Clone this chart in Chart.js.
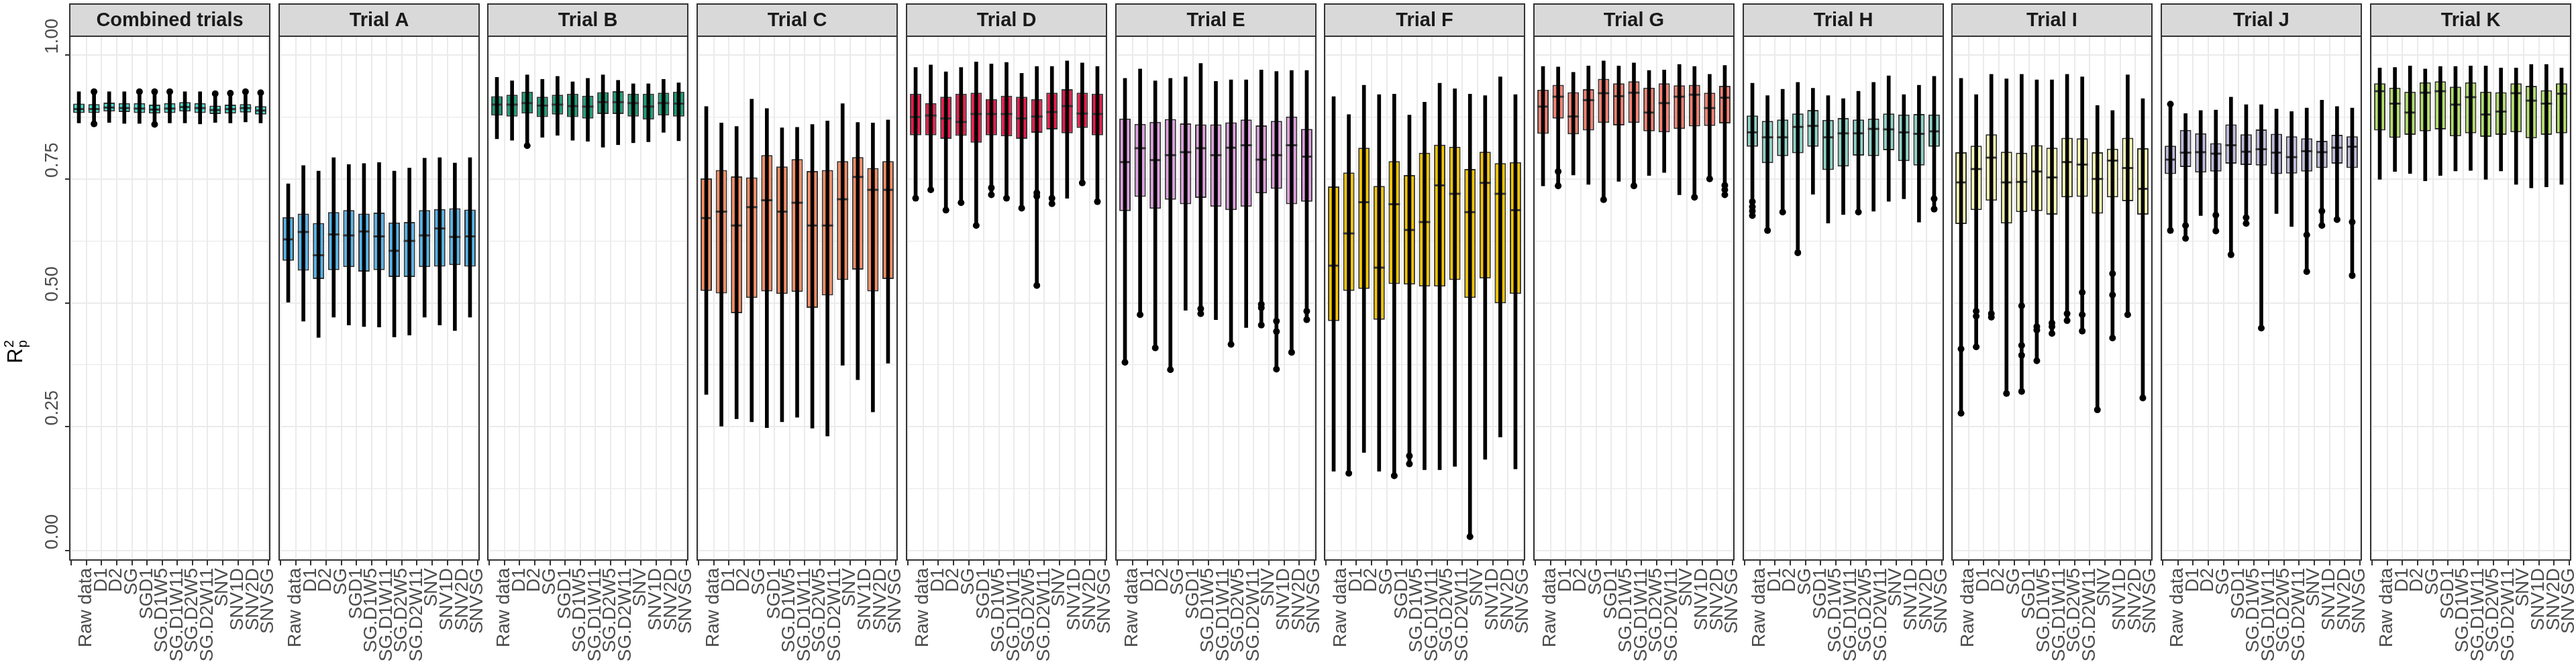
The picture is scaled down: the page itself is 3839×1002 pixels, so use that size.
<!DOCTYPE html>
<html>
<head>
<meta charset="utf-8">
<script src="https://cdn.jsdelivr.net/npm/chart.js@4.4.1/dist/chart.umd.min.js"></script>
<style>
  html, body { margin: 0; padding: 0; background: #fff; }
  #wrap { position: relative; width: 3839px; height: 1002px; overflow: hidden; }
  #wrap canvas { position: absolute; top: 0; }
</style>
</head>
<body>
<div id="wrap"></div>
<script>
// categories on the x axis (same in every facet)
const categories = ['Raw data', 'D1', 'D2', 'SG', 'SGD1', 'SG.D1W5', 'SG.D1W11',
                    'SG.D2W5', 'SG.D2W11', 'SNV', 'SNV1D', 'SNV2D', 'SNVSG'];
const trials = ['Combined trials', 'Trial A', 'Trial B', 'Trial C', 'Trial D', 'Trial E',
                'Trial F', 'Trial G', 'Trial H', 'Trial I', 'Trial J', 'Trial K'];
const fills = ['#40E0D0', '#56B4E9', '#1B9E77', '#FC8D62', '#E8194B', '#DDA0DD',
               '#F5C400', '#FB8072', '#8DD3C7', '#FFFFB3', '#BEBADA', '#B3DE69'];

const yGrid = [0, 0.125, 0.25, 0.375, 0.5, 0.625, 0.75, 0.875, 1];
const yLabels = ['0.00', '0.25', '0.50', '0.75', '1.00'];

// min / max of the vertical line (one row per trial, same order as trials)
const lows = [
  [0.863,0.861,0.864,0.862,0.862,0.860,0.863,0.863,0.861,0.864,0.863,0.865,0.863],
  [0.501,0.463,0.430,0.471,0.455,0.452,0.451,0.431,0.435,0.471,0.455,0.444,0.471],
  [0.831,0.828,0.817,0.834,0.838,0.828,0.826,0.814,0.819,0.823,0.825,0.844,0.827],
  [0.315,0.251,0.266,0.260,0.248,0.260,0.269,0.247,0.231,0.374,0.345,0.280,0.378],
  [0.711,0.728,0.687,0.702,0.656,0.718,0.711,0.691,0.535,0.700,0.711,0.742,0.704],
  [0.380,0.476,0.409,0.365,0.485,0.478,0.466,0.416,0.450,0.455,0.366,0.400,0.466],
  [0.160,0.156,0.198,0.160,0.151,0.175,0.163,0.163,0.170,0.028,0.184,0.229,0.165],
  [0.736,0.736,0.758,0.739,0.708,0.745,0.736,0.757,0.763,0.718,0.713,0.750,0.718],
  [0.676,0.646,0.683,0.601,0.719,0.661,0.678,0.683,0.685,0.705,0.710,0.663,0.689],
  [0.277,0.411,0.471,0.317,0.321,0.383,0.438,0.464,0.443,0.284,0.429,0.476,0.308],
  [0.646,0.630,0.676,0.645,0.597,0.660,0.449,0.680,0.654,0.563,0.656,0.668,0.555],
  [0.749,0.765,0.761,0.746,0.757,0.766,0.767,0.749,0.766,0.739,0.732,0.734,0.739]
];
const highs = [
  [0.926,0.926,0.926,0.926,0.926,0.926,0.926,0.926,0.926,0.922,0.923,0.926,0.924],
  [0.740,0.777,0.766,0.793,0.779,0.781,0.783,0.766,0.772,0.792,0.793,0.782,0.793],
  [0.955,0.948,0.960,0.951,0.957,0.946,0.953,0.960,0.949,0.942,0.942,0.951,0.944],
  [0.896,0.863,0.856,0.911,0.892,0.853,0.854,0.860,0.867,0.902,0.864,0.863,0.869],
  [0.975,0.980,0.966,0.975,0.986,0.982,0.985,0.963,0.977,0.977,0.988,0.984,0.977],
  [0.953,0.972,0.948,0.953,0.956,0.983,0.947,0.950,0.950,0.970,0.967,0.969,0.969],
  [0.916,0.880,0.939,0.920,0.921,0.879,0.905,0.943,0.932,0.921,0.918,0.956,0.920],
  [0.977,0.976,0.965,0.978,0.988,0.978,0.984,0.969,0.970,0.981,0.977,0.961,0.979],
  [0.943,0.918,0.931,0.945,0.933,0.918,0.912,0.927,0.945,0.958,0.920,0.939,0.957],
  [0.953,0.920,0.961,0.952,0.961,0.950,0.950,0.961,0.956,0.898,0.888,0.960,0.912],
  [0.901,0.882,0.888,0.889,0.915,0.900,0.900,0.891,0.886,0.893,0.909,0.896,0.893],
  [0.974,0.975,0.978,0.972,0.977,0.977,0.978,0.978,0.974,0.974,0.981,0.981,0.974]
];
// box: lower hinge, median, upper hinge
const q1s = [
  [0.883,0.883,0.886,0.885,0.883,0.882,0.883,0.886,0.883,0.881,0.882,0.884,0.880],
  [0.585,0.565,0.548,0.566,0.572,0.563,0.566,0.552,0.552,0.572,0.573,0.576,0.573],
  [0.878,0.876,0.882,0.875,0.880,0.875,0.872,0.881,0.881,0.876,0.870,0.878,0.876],
  [0.524,0.519,0.479,0.510,0.523,0.518,0.522,0.490,0.515,0.546,0.567,0.523,0.548],
  [0.838,0.838,0.831,0.837,0.823,0.838,0.836,0.831,0.843,0.850,0.842,0.853,0.838],
  [0.685,0.714,0.690,0.708,0.699,0.712,0.694,0.687,0.694,0.721,0.730,0.699,0.704],
  [0.463,0.524,0.528,0.466,0.538,0.537,0.533,0.533,0.546,0.510,0.549,0.499,0.518],
  [0.841,0.872,0.840,0.848,0.863,0.858,0.863,0.846,0.844,0.851,0.856,0.857,0.862],
  [0.815,0.782,0.796,0.802,0.815,0.768,0.775,0.797,0.796,0.808,0.786,0.777,0.815],
  [0.659,0.687,0.706,0.660,0.683,0.685,0.678,0.713,0.714,0.680,0.713,0.705,0.678],
  [0.760,0.774,0.763,0.765,0.781,0.778,0.777,0.760,0.761,0.765,0.772,0.781,0.772],
  [0.848,0.833,0.839,0.846,0.850,0.836,0.842,0.835,0.839,0.844,0.832,0.839,0.842]
];
const medians = [
  [0.891,0.891,0.894,0.893,0.892,0.890,0.892,0.895,0.893,0.889,0.891,0.893,0.888],
  [0.628,0.643,0.596,0.638,0.636,0.644,0.634,0.605,0.625,0.636,0.650,0.633,0.634],
  [0.900,0.900,0.903,0.898,0.900,0.897,0.896,0.905,0.905,0.903,0.896,0.903,0.902],
  [0.671,0.684,0.656,0.693,0.707,0.684,0.702,0.656,0.656,0.709,0.754,0.728,0.728],
  [0.875,0.878,0.872,0.865,0.881,0.881,0.881,0.872,0.876,0.885,0.897,0.882,0.881],
  [0.784,0.812,0.788,0.798,0.804,0.812,0.798,0.813,0.818,0.789,0.798,0.818,0.795],
  [0.575,0.640,0.703,0.571,0.699,0.647,0.663,0.737,0.720,0.683,0.742,0.720,0.687],
  [0.896,0.916,0.876,0.909,0.923,0.917,0.924,0.884,0.903,0.916,0.920,0.893,0.914],
  [0.844,0.834,0.834,0.855,0.857,0.834,0.842,0.842,0.851,0.850,0.844,0.841,0.846],
  [0.743,0.770,0.793,0.743,0.744,0.765,0.753,0.784,0.779,0.750,0.787,0.772,0.730],
  [0.789,0.803,0.804,0.801,0.818,0.805,0.810,0.803,0.794,0.806,0.804,0.813,0.815],
  [0.927,0.902,0.884,0.924,0.927,0.900,0.915,0.880,0.886,0.923,0.908,0.902,0.922]
];
const q3s = [
  [0.902,0.901,0.904,0.903,0.903,0.900,0.903,0.905,0.903,0.898,0.900,0.901,0.897],
  [0.673,0.680,0.661,0.683,0.687,0.680,0.682,0.662,0.663,0.687,0.689,0.691,0.688],
  [0.917,0.920,0.926,0.916,0.920,0.922,0.918,0.925,0.927,0.922,0.922,0.924,0.926],
  [0.751,0.768,0.755,0.753,0.798,0.775,0.790,0.766,0.768,0.786,0.794,0.772,0.786],
  [0.922,0.903,0.916,0.922,0.924,0.911,0.918,0.916,0.911,0.924,0.931,0.924,0.922],
  [0.872,0.861,0.865,0.871,0.862,0.860,0.860,0.864,0.870,0.858,0.867,0.876,0.851],
  [0.735,0.763,0.813,0.736,0.786,0.758,0.803,0.819,0.815,0.770,0.805,0.782,0.784],
  [0.930,0.940,0.925,0.931,0.952,0.943,0.947,0.934,0.943,0.939,0.940,0.924,0.938],
  [0.878,0.867,0.870,0.882,0.889,0.869,0.873,0.870,0.872,0.882,0.880,0.881,0.880],
  [0.804,0.817,0.840,0.805,0.803,0.818,0.813,0.833,0.832,0.804,0.811,0.833,0.812],
  [0.817,0.849,0.842,0.822,0.860,0.840,0.850,0.841,0.836,0.832,0.827,0.839,0.836],
  [0.943,0.934,0.926,0.945,0.947,0.936,0.945,0.926,0.925,0.943,0.938,0.929,0.943]
];
// outlying points: [category index, value]
const outliers = [
  [[1,0.926],[1,0.861],[4,0.926],[5,0.926],[5,0.860],[6,0.926],[9,0.922],[10,0.923],[11,0.926],[12,0.924]],
  [],
  [[2,0.817]],
  [],
  [[0,0.711],[1,0.728],[2,0.687],[3,0.702],[4,0.656],[5,0.732],[5,0.718],[6,0.711],[7,0.691],
   [8,0.722],[8,0.715],[8,0.535],[9,0.711],[9,0.700],[11,0.742],[12,0.704]],
  [[0,0.380],[1,0.476],[2,0.409],[3,0.365],[5,0.488],[5,0.478],[7,0.416],[9,0.497],[9,0.490],
   [9,0.455],[10,0.463],[10,0.442],[10,0.366],[11,0.400],[12,0.483],[12,0.466]],
  [[1,0.156],[4,0.151],[5,0.191],[5,0.175],[9,0.028]],
  [[1,0.765],[1,0.736],[4,0.708],[6,0.736],[10,0.713],[11,0.750],[12,0.737],[12,0.728],[12,0.718]],
  [[0,0.704],[0,0.694],[0,0.685],[0,0.676],[1,0.646],[2,0.683],[3,0.601],[7,0.683],[12,0.710],[12,0.689]],
  [[0,0.407],[0,0.277],[1,0.483],[1,0.473],[1,0.411],[2,0.478],[2,0.471],[3,0.317],[4,0.494],
   [4,0.414],[4,0.394],[4,0.321],[5,0.452],[5,0.445],[5,0.383],[6,0.459],[6,0.452],[6,0.438],
   [7,0.478],[7,0.464],[8,0.521],[8,0.476],[8,0.443],[9,0.284],[10,0.559],[10,0.516],[10,0.429],
   [11,0.476],[12,0.308]],
  [[0,0.901],[0,0.646],[1,0.656],[1,0.630],[3,0.677],[3,0.645],[4,0.597],[5,0.672],[5,0.660],
   [6,0.449],[9,0.637],[9,0.563],[10,0.685],[10,0.656],[11,0.668],[12,0.663],[12,0.555]],
  []
];

const FONT = '"Liberation Sans", Arial, Helvetica, sans-serif';
const PANEL_X0 = 104, PANEL_STEP = 311.7, PANEL_W = 298, SIDE = 40, AXIS_W = 50;

// grey strip with the facet name + dark frame round the panel
const facetFrame = {
  id: 'facetFrame',
  afterDraw(chart, args, opts) {
    const ctx = chart.ctx, a = chart.chartArea;
    ctx.save();
    ctx.fillStyle = '#d9d9d9';
    ctx.fillRect(a.left, 6, a.right - a.left, a.top - 6);
    ctx.strokeStyle = '#333';
    ctx.lineWidth = 2;
    ctx.strokeRect(a.left, 6, a.right - a.left, a.top - 6);
    ctx.strokeRect(a.left, a.top, a.right - a.left, a.bottom - a.top);
    ctx.fillStyle = '#1a1a1a';
    ctx.font = 'bold 29px ' + FONT;
    ctx.textAlign = 'center';
    ctx.textBaseline = 'middle';
    ctx.fillText(opts.title, (a.left + a.right) / 2, (6 + a.top) / 2 + 1);
    ctx.restore();
  }
};

// R²p axis title, only on the first panel
const yTitle = {
  id: 'yTitle',
  afterDraw(chart, args, opts) {
    if (!opts.show) return;
    const ctx = chart.ctx;
    ctx.save();
    ctx.translate(33, opts.centre);
    ctx.rotate(-Math.PI / 2);
    ctx.fillStyle = '#000';
    ctx.font = '31px ' + FONT;
    const wR = ctx.measureText('R').width;
    ctx.font = '20px ' + FONT;
    const wS = ctx.measureText('2').width;
    const x0 = -(wR + wS) / 2;
    ctx.font = '31px ' + FONT;
    ctx.fillText('R', x0, 0);
    ctx.font = '20px ' + FONT;
    ctx.fillText('2', x0 + wR + 1, -13);
    ctx.fillText('p', x0 + wR + 1, 7);
    ctx.restore();
  }
};

function dibujarPanel(t) {
  const first = t === 0;
  const canvas = document.createElement('canvas');
  const panelLeft = Math.round(PANEL_X0 + PANEL_STEP * t);
  const left = first ? 0 : panelLeft - SIDE;
  canvas.width = first ? PANEL_X0 + PANEL_W + SIDE : PANEL_W + 2 * SIDE;
  canvas.height = 1002;
  canvas.style.left = left + 'px';
  document.getElementById('wrap').appendChild(canvas);

  const cajas = categories.map((c, i) => ({ x: i, y: [q1s[t][i], q3s[t][i]] }));
  const lineas = categories.map((c, i) => ({ x: i, y: [lows[t][i], highs[t][i]] }));
  const medianas = categories.map((c, i) => ({ x: i, y: medians[t][i] }));
  const puntos = outliers[t].map(p => ({ x: p[0], y: p[1] }));

  new Chart(canvas, {
    type: 'bar',
    data: {
      datasets: [
        { type: 'line', data: puntos, showLine: false, pointRadius: 5,
          pointBackgroundColor: '#000', pointBorderWidth: 0, order: 1 },
        { type: 'bar', data: lineas, backgroundColor: '#000', barThickness: 5,
          grouped: false, order: 2 },
        { type: 'line', data: medianas, showLine: false, pointStyle: 'line', pointRadius: 8.5,
          pointBorderWidth: 3, pointBorderColor: '#333', borderColor: '#333', order: 3 },
        { type: 'bar', data: cajas, backgroundColor: fills[t], borderColor: '#333', borderWidth: 2,
          borderSkipped: false, barPercentage: 0.75, categoryPercentage: 1, grouped: false, order: 4 }
      ]
    },
    options: {
      responsive: false,
      animation: false,
      devicePixelRatio: 1,
      layout: { padding: { left: first ? PANEL_X0 - AXIS_W : SIDE, right: SIDE, top: 54, bottom: 0 } },
      plugins: {
        legend: { display: false },
        tooltip: { enabled: false },
        facetFrame: { title: trials[t] },
        yTitle: { show: first, centre: 525 }
      },
      scales: {
        x: {
          type: 'linear', min: -0.6, max: 12.6, offset: false,
          afterBuildTicks: s => { s.ticks = categories.map((c, i) => ({ value: i })); },
          afterFit: s => { s.height = 167; },
          ticks: {
            autoSkip: false, minRotation: 90, maxRotation: 90, padding: 4, labelOffset: 11,
            color: '#4d4d4d', font: { family: FONT, size: 28 },
            callback: v => categories[v]
          },
          grid: { color: '#ebebeb', lineWidth: 2, tickColor: '#333', tickLength: 8, tickWidth: 2 },
          border: { display: false }
        },
        y: {
          min: -0.019, max: 1.038,
          afterBuildTicks: s => { s.ticks = yGrid.map(v => ({ value: v })); },
          afterFit: s => { s.width = first ? AXIS_W : 0; },
          ticks: {
            display: first, minRotation: 90, maxRotation: 90, crossAlign: 'center',
            padding: -8, labelOffset: -28,
            color: '#4d4d4d', font: { family: FONT, size: 27 },
            callback: (v, i) => (i % 2 === 0 ? yLabels[i / 2] : '')
          },
          grid: {
            color: '#ebebeb',
            lineWidth: c => (c.index % 2 === 0 ? 2 : 1.2),
            drawTicks: first, tickLength: 7, tickWidth: 2,
            tickColor: c => (c.index % 2 === 0 ? '#333' : 'rgba(0,0,0,0)')
          },
          border: { display: false }
        }
      }
    },
    plugins: [facetFrame, yTitle]
  });
}

trials.forEach((nombre, t) => dibujarPanel(t));
</script>
</body>
</html>
